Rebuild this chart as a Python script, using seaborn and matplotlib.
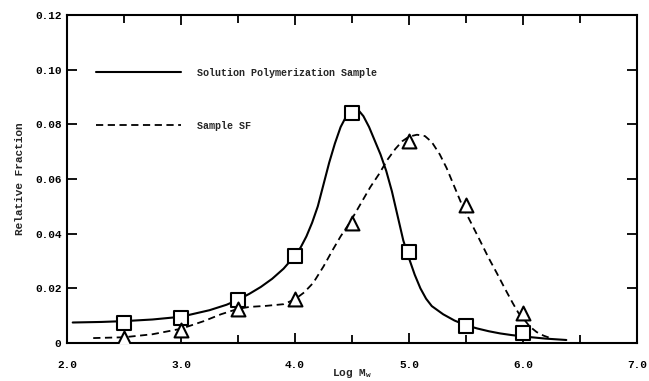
import matplotlib
matplotlib.use("Agg")
import matplotlib.pyplot as plt
import seaborn as sns
import pandas as pd
from matplotlib.ticker import MultipleLocator, FixedLocator, FixedFormatter

# Measured data points
sol_x = [2.5, 3.0, 3.5, 4.0, 4.5, 5.0, 5.5, 6.0]
sol_y = [0.0074, 0.0091, 0.0157, 0.032, 0.0841, 0.0333, 0.0062, 0.0037]
sf_x = [2.5, 3.0, 3.5, 4.0, 4.5, 5.0, 5.5, 6.0]
sf_y = [0.0020, 0.0047, 0.0124, 0.016, 0.044, 0.074, 0.0505, 0.011]

# Curves
sol_curve_x = [2.05, 2.3, 2.5, 2.75, 3.0, 3.25, 3.4, 3.5, 3.6, 3.7, 3.8, 3.9,
               4.0, 4.05, 4.1, 4.15, 4.2, 4.25, 4.3, 4.35, 4.4, 4.45, 4.5, 4.55,
               4.6, 4.65, 4.7, 4.75, 4.8, 4.85, 4.9, 4.95, 5.0, 5.05, 5.1, 5.15,
               5.2, 5.3, 5.4, 5.5, 5.6, 5.7, 5.8, 5.9, 6.0, 6.2, 6.38]
sol_curve_y = [0.0075, 0.0077, 0.0080, 0.0086, 0.0096, 0.0120, 0.0140, 0.0158,
               0.0180, 0.0205, 0.0235, 0.0272, 0.0320, 0.0350, 0.0390, 0.0440,
               0.0500, 0.0580, 0.0660, 0.0730, 0.0790, 0.0830, 0.0855, 0.0855,
               0.0830, 0.0790, 0.0740, 0.0690, 0.0630, 0.0555, 0.0465, 0.0375,
               0.0310, 0.0250, 0.0200, 0.0162, 0.0135, 0.0105, 0.0082, 0.0065,
               0.0053, 0.0043, 0.0035, 0.0029, 0.0024, 0.0016, 0.0011]
sf_curve_x = [2.23, 2.5, 2.75, 3.0, 3.2, 3.35, 3.5, 3.6, 3.75, 3.9, 4.0, 4.08,
              4.16, 4.25, 4.33, 4.4, 4.48, 4.57, 4.66, 4.74, 4.81, 4.88, 4.94,
              5.0, 5.07, 5.14, 5.2, 5.27, 5.33, 5.4, 5.47, 5.55, 5.62, 5.7, 5.77,
              5.84, 5.91, 5.96, 6.0, 6.06, 6.12, 6.18, 6.24]
sf_curve_y = [0.0018, 0.0021, 0.0032, 0.0052, 0.0080, 0.0105, 0.0125, 0.0132,
              0.0136, 0.0142, 0.0160, 0.0185, 0.0220, 0.0280, 0.0340, 0.0390,
              0.0440, 0.0505, 0.0570, 0.0620, 0.0670, 0.0710, 0.0738, 0.0755,
              0.0762, 0.0757, 0.0735, 0.0690, 0.0640, 0.0570, 0.0500, 0.0435,
              0.0377, 0.0310, 0.0256, 0.0200, 0.0146, 0.0110, 0.0091, 0.0060,
              0.0040, 0.0027, 0.0018]

labels = ["Solution Polymerization Sample", "Sample SF"]
yticks = [0, 0.02, 0.04, 0.06, 0.08, 0.10, 0.12]
ytick_labels = ["0", "0.02", "0.04", "0.06", "0.08", "0.10", "0.12"]
xticks = [2.0, 3.0, 4.0, 5.0, 6.0, 7.0]
xtick_labels = ["2.0", "3.0", "4.0", "5.0", "6.0", "7.0"]

sns.set_style("ticks")
FONT = ["Liberation Mono", "DejaVu Sans Mono"]
plt.rcParams["font.family"] = FONT
plt.rcParams["font.weight"] = "bold"

fig = plt.figure(figsize=(6.49, 3.81), dpi=100)
ax = fig.add_axes([67 / 649, 1 - 343 / 381, 570 / 649, 328 / 381])

sol_curve = pd.DataFrame({"x": sol_curve_x, "y": sol_curve_y})
sf_curve = pd.DataFrame({"x": sf_curve_x, "y": sf_curve_y})
sns.lineplot(data=sol_curve, x="x", y="y", ax=ax, color="black", lw=1.5,
             sort=False, estimator=None, label=labels[0])
sns.lineplot(data=sf_curve, x="x", y="y", ax=ax, color="black", lw=1.3,
             sort=False, estimator=None, label=labels[1], dashes=False)
ax.lines[1].set_linestyle((0, (4, 2.5)))
for ln in ax.lines:
    ln.set_solid_joinstyle("round")
    ln.set_dash_joinstyle("round")

sns.scatterplot(x=sol_x, y=sol_y, ax=ax, marker="s", s=110, facecolor="white",
                edgecolor="black", linewidth=1.5, zorder=5)
sns.scatterplot(x=sf_x, y=sf_y, ax=ax, marker="^", s=100, facecolor="white",
                edgecolor="black", linewidth=1.5, zorder=5)

ax.set_xlim(2.0, 7.0)
ax.set_ylim(0, 0.12)
ax.xaxis.set_major_locator(FixedLocator(xticks))
ax.xaxis.set_major_formatter(FixedFormatter(xtick_labels))
ax.xaxis.set_minor_locator(MultipleLocator(0.5))
ax.yaxis.set_major_locator(FixedLocator(yticks))
ax.yaxis.set_major_formatter(FixedFormatter(ytick_labels))

ax.tick_params(axis="both", which="both", direction="in", top=True, right=True,
               width=1.3, labelsize=8, colors="black")
ax.tick_params(which="major", length=7)
ax.tick_params(which="minor", length=6)
ax.tick_params(axis="x", pad=12)
ax.tick_params(axis="y", pad=4)
for lab in ax.get_xticklabels() + ax.get_yticklabels():
    lab.set_fontweight("bold")
for sp in ax.spines.values():
    sp.set_linewidth(1.5)
    sp.set_color("black")

ax.set_xlabel(r"Log M$_\mathregular{w}$", fontsize=8, fontweight="bold", labelpad=-2)
ax.set_ylabel("Relative Fraction", fontsize=8, fontweight="bold", labelpad=7)

leg = ax.legend(loc="upper left", bbox_to_anchor=(0.035, 0.867), frameon=False,
                handlelength=8.5, handletextpad=1.6, labelspacing=4.3,
                prop={"family": FONT, "weight": "bold", "size": 7.2})

fig.savefig("out.png", dpi=100)
